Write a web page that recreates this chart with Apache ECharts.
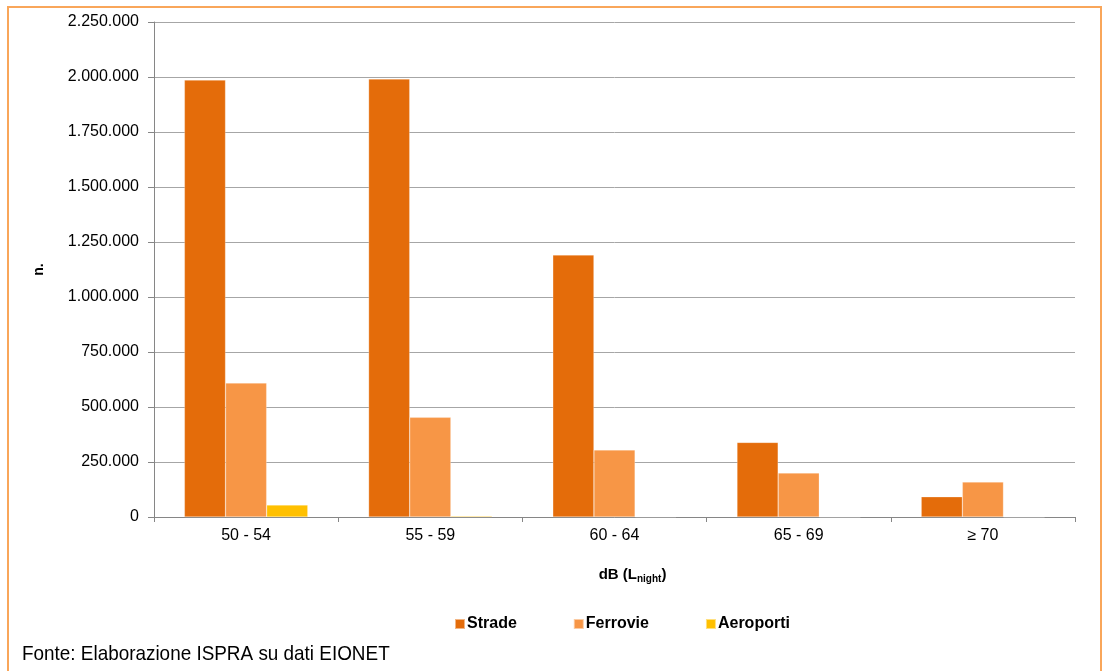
<!DOCTYPE html>
<html>
<head>
<meta charset="utf-8">
<script src="https://cdn.jsdelivr.net/npm/echarts@6/dist/echarts.min.js"></script>
<style>
html,body{margin:0;padding:0;background:#fff;}
#c{width:1102px;height:671px;}
</style>
</head>
<body>
<div id="c"></div>
<script>
const categories = ['50 - 54', '55 - 59', '60 - 64', '65 - 69', '≥ 70'];
const strade = [1986000, 1991000, 1191000, 339000, 92000];
const ferrovie = [609000, 453000, 305000, 200000, 159000];
const aeroporti = [54500, 4000, 1000, 0, 0];
const seriesNames = ['Strade', 'Ferrovie', 'Aeroporti'];
const colors = ['#E46C0A', '#F79646', '#FFC000'];

function fmt(v){
  return String(v).replace(/\B(?=(\d{3})+(?!\d))/g, '.');
}

const chart = echarts.init(document.getElementById('c'));
const font = '"Liberation Sans", Arial, sans-serif';
chart.setOption({
  animation: false,
  textStyle: {fontFamily: font},
  graphic: [
    {type: 'rect', shape: {x: 8, y: 7, width: 1093, height: 700},
     style: {fill: 'none', stroke: '#F9A65A', lineWidth: 2}, silent: true},
    {type: 'text', x: 22, y: 644, scaleX: 0.9,
     style: {text: 'Fonte: Elaborazione ISPRA su dati EIONET', fill: '#000',
       font: '21px "Liberation Sans", Arial, sans-serif'}}
  ],
  grid: {left: 154, right: 27, top: 22, bottom: 154},
  legend: {
    data: seriesNames, top: 611, left: 449,
    itemWidth: 10, itemHeight: 10, itemGap: 56,
    icon: 'rect',
    textStyle: {fontWeight: 'bold', fontSize: 16, color: '#000', fontFamily: font, padding: [0,0,0,-3]}
  },
  xAxis: {
    type: 'category', data: categories,
    axisLine: {lineStyle: {color: '#868686'}},
    axisTick: {show: true, length: 5, lineStyle: {color: '#868686'}},
    axisLabel: {fontSize: 16, color: '#000', margin: 11},
    name: '{a|dB (L}{s|night}{a|)}',
    nameLocation: 'middle', nameGap: 48,
    nameTextStyle: {
      padding: [0, 0, 0, 36],
      rich: {
        a: {fontWeight: 'bold', fontSize: 15, color: '#000', fontFamily: font},
        s: {fontWeight: 'bold', fontSize: 10, color: '#000', fontFamily: font, padding: [9,0,0,0]}
      }
    }
  },
  yAxis: {
    type: 'value', min: 0, max: 2250000, interval: 250000,
    axisLine: {show: true, lineStyle: {color: '#868686'}},
    axisTick: {show: true, length: 6, lineStyle: {color: '#868686'}},
    axisLabel: {fontSize: 16, color: '#000', formatter: fmt, margin: 15},
    splitLine: {lineStyle: {color: '#A6A6A6'}},
    name: 'n.', nameLocation: 'middle', nameGap: 108, nameRotate: 90,
    nameTextStyle: {fontWeight: 'bold', fontSize: 14, color: '#000'}
  },
  series: [
    {name: seriesNames[0], type: 'bar', data: strade, barGap: 0, barCategoryGap: '33%',
     itemStyle: {color: colors[0], borderColor: 'rgba(255,255,255,0.5)', borderWidth: 0.5}},
    {name: seriesNames[1], type: 'bar', data: ferrovie, barGap: 0, barCategoryGap: '33%',
     itemStyle: {color: colors[1], borderColor: 'rgba(255,255,255,0.5)', borderWidth: 0.5}},
    {name: seriesNames[2], type: 'bar', data: aeroporti, barGap: 0, barCategoryGap: '33%',
     itemStyle: {color: colors[2], borderColor: 'rgba(255,255,255,0.5)', borderWidth: 0.5}}
  ]
});
</script>
</body>
</html>
